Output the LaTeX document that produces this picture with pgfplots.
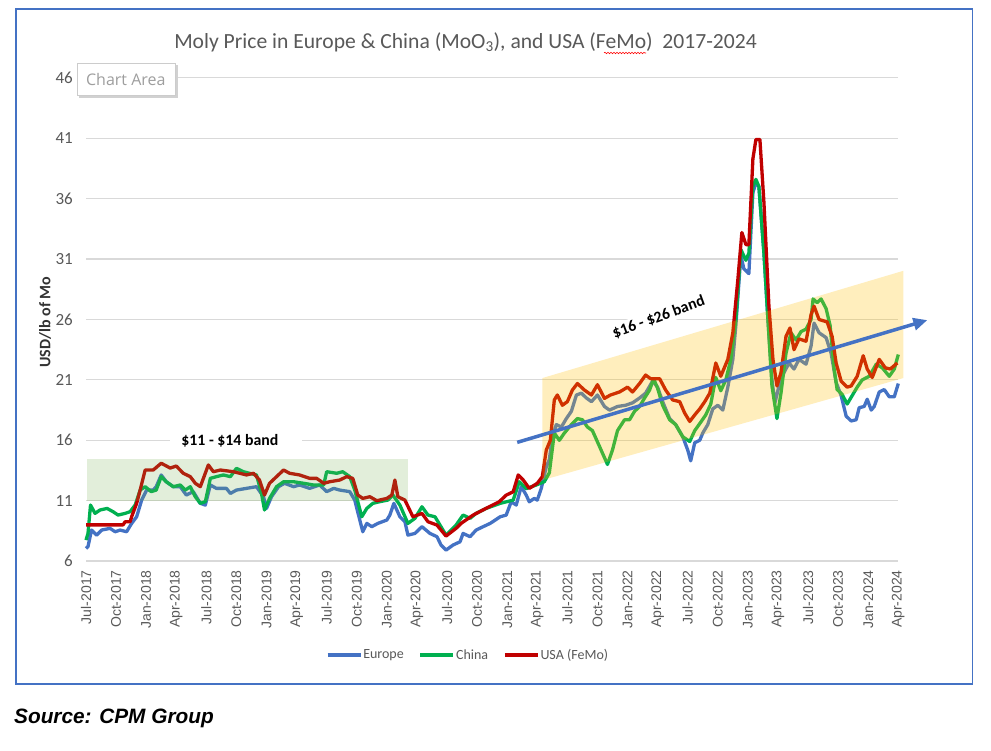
\documentclass[border=0pt]{standalone}
\usepackage{pgfplots}
\pgfplotsset{compat=1.18}
\usepackage{fontspec}
\usepackage{graphicx}
\setmainfont{Carlito}
\newfontfamily\arialf{Liberation Sans}
\newfontfamily\opensans{Open Sans}
\usetikzlibrary{arrows.meta,decorations.pathmorphing}
\definecolor{eu}{HTML}{4472C4}
\definecolor{cn}{HTML}{00B050}
\definecolor{us}{HTML}{C00000}
\definecolor{txt}{HTML}{595959}
\definecolor{gridc}{HTML}{D9D9D9}
\definecolor{gold}{HTML}{FFC000}
\definecolor{bandgreen}{HTML}{70AD47}

\pgfplotstableread{
m v
0 7.05
0.2 7.2
0.55 8.57
1.06 8.15
1.56 8.57
2.4 8.71
2.9 8.43
3.4 8.57
4.05 8.43
4.55 9.12
5.05 9.67
5.55 11.05
6.05 11.88
6.7 11.88
7.0 12.16
7.5 13.13
8.0 12.57
8.7 12.16
9.4 12.16
10.0 11.47
10.7 11.75
11.4 10.78
11.9 10.64
12.4 12.3
13.0 12.02
14.0 12.02
14.4 11.6
15.0 11.88
16.0 12.02
17.0 12.16
17.7 11.33
18.0 10.36
18.5 11.33
19.2 12.16
19.8 12.44
20.7 12.16
21.3 12.3
22.3 12.02
23.3 12.3
24.0 11.75
24.7 12.02
25.3 11.88
26.3 11.75
26.8 11.05
27.3 9.4
27.6 8.43
28.0 9.12
28.5 8.85
29.1 9.12
30.0 9.4
30.3 9.81
30.7 10.78
31.3 9.67
31.8 9.26
32.1 8.15
32.8 8.29
33.5 8.85
34.3 8.29
35.0 8.02
35.4 7.33
35.9 6.91
36.6 7.33
37.3 7.6
37.6 8.29
38.3 8.02
38.9 8.57
39.6 8.85
40.3 9.12
41.3 9.67
41.9 9.81
42.4 10.91
42.9 10.64
43.4 12.16
43.9 11.46
44.2 10.91
44.7 11.19
45.0 11.05
45.4 12.02
45.9 13.8
46.2 14.4
46.5 16.3
46.9 17.3
47.4 17.1
47.9 17.8
48.4 18.4
48.9 19.75
49.4 19.9
49.9 19.5
50.4 19.2
51.0 19.75
51.7 18.8
52.2 18.5
53.0 18.8
53.8 18.9
54.5 19.1
55.2 19.5
55.8 19.9
56.5 20.9
57.0 20.4
57.5 19.2
58.2 17.8
58.8 17.3
59.5 16.3
60.0 15.2
60.3 14.3
60.7 15.8
61.2 16.0
61.5 16.6
62.0 17.3
62.5 18.6
63.0 18.9
63.5 18.5
64.0 20.4
64.5 22.7
64.8 25.5
65.3 31.3
65.6 30.2
66.1 29.8
66.5 36.5
66.8 37.3
67.1 37.0
67.6 31.5
68.0 26.0
68.4 21.0
68.7 19.1
69.1 20.5
69.6 21.6
70.1 22.4
70.6 21.9
71.1 22.7
71.8 22.3
72.3 23.8
72.6 25.7
73.1 24.9
73.8 24.5
74.3 23.2
74.8 20.8
75.3 19.7
75.8 18.0
76.3 17.6
76.8 17.7
77.1 18.7
77.6 18.8
77.9 19.4
78.3 18.5
78.6 18.8
79.1 20.0
79.6 20.2
80.1 19.6
80.6 19.6
81.0 20.7
}\europe

\pgfplotstableread{
m v
0 7.74
0.2 8.29
0.45 10.64
0.9 9.95
1.4 10.23
2.1 10.36
2.7 10.09
3.2 9.81
3.9 9.95
4.4 10.09
4.9 10.64
5.4 11.88
5.9 12.16
6.5 11.75
7.0 11.88
7.5 12.99
8.0 12.57
8.7 12.16
9.4 12.3
9.9 11.88
10.4 12.16
10.9 11.33
11.4 10.78
11.9 10.92
12.4 12.85
13.0 12.99
13.7 13.13
14.4 12.99
15.0 13.68
15.7 13.4
16.3 13.27
17.0 13.13
17.5 11.6
17.8 10.23
18.3 11.19
19.0 12.16
19.7 12.57
20.7 12.57
21.7 12.44
22.7 12.3
23.7 12.3
24.0 13.4
25.0 13.27
25.6 13.4
26.3 12.99
26.8 11.88
27.5 9.67
28.0 10.36
28.6 10.78
29.3 10.92
30.1 11.05
30.6 11.47
31.3 10.64
32.1 9.12
32.8 9.54
33.5 10.5
34.1 9.81
34.8 9.67
35.9 8.15
36.9 8.98
37.6 9.81
38.3 9.54
38.9 9.95
39.9 10.36
41.3 10.78
42.6 11.05
43.2 12.57
43.9 12.0
44.9 12.3
45.7 12.57
46.2 13.3
46.7 16.6
47.2 16.0
47.7 16.6
48.4 17.3
49.0 17.8
49.5 17.7
50.0 17.1
50.5 16.8
51.2 15.5
52.0 14.0
52.5 15.2
53.0 16.8
53.7 17.7
54.2 17.7
54.7 18.4
55.2 18.8
55.7 19.5
56.2 20.16
56.6 21.1
57.0 20.3
57.5 18.9
58.2 17.7
58.8 17.3
59.5 16.3
60.2 15.9
60.7 16.8
61.3 17.5
61.8 18.1
62.3 19.0
62.8 21.2
63.3 20.1
63.8 21.0
64.3 22.7
64.8 26.0
65.3 31.8
65.8 30.9
66.1 31.5
66.5 37.0
66.8 37.6
67.1 37.0
67.6 31.5
68.0 26.0
68.4 20.5
68.9 17.8
69.3 19.9
69.8 23.2
70.3 24.9
70.8 24.3
71.3 25.0
71.8 25.2
72.3 26.0
72.5 27.7
72.9 27.4
73.3 27.7
73.8 26.9
74.2 25.5
74.6 21.9
74.9 20.2
75.4 19.8
75.9 19.0
76.4 19.7
76.9 20.4
77.4 21.0
78.1 21.3
78.8 22.3
79.4 22.0
80.1 21.3
80.6 21.9
81.0 23.1
}\china

\pgfplotstableread{
m v
0 9.0
3.7 9.0
3.9 9.26
4.4 9.26
4.55 9.67
5.05 10.78
5.4 11.88
5.9 13.54
6.7 13.54
7.5 14.1
8.4 13.7
9.0 13.87
9.7 13.27
10.4 12.99
10.9 12.44
11.4 12.16
12.2 13.96
12.7 13.4
13.4 13.54
14.7 13.4
16.0 13.13
16.7 13.27
17.3 12.71
17.8 11.47
18.3 12.44
19.0 12.99
19.7 13.54
20.3 13.27
21.3 13.13
22.3 12.85
23.0 12.85
23.7 12.44
24.3 12.57
25.3 12.71
26.0 12.99
26.6 12.85
27.1 11.47
27.6 11.19
28.3 11.33
29.0 11.0
30.0 11.19
30.5 11.47
30.8 12.71
31.1 11.33
31.8 11.05
32.6 9.67
33.5 9.95
34.1 9.26
35.0 8.98
35.9 8.07
36.9 8.71
37.4 9.12
38.6 9.81
39.9 10.37
41.2 10.91
41.9 11.46
42.6 11.74
43.1 13.13
43.6 12.71
44.2 12.02
45.0 12.44
45.5 12.99
45.9 15.2
46.3 16.0
46.7 19.34
47.0 19.75
47.5 18.9
48.0 19.2
48.5 20.16
49.0 20.7
49.7 20.16
50.4 19.75
51.0 20.6
51.7 19.47
52.3 19.75
53.2 20.0
54.0 20.4
54.5 20.0
55.2 20.7
55.8 21.4
56.3 21.1
57.2 21.1
57.8 20.16
58.5 19.34
59.2 19.2
59.7 18.25
60.2 17.56
60.7 18.1
61.2 18.6
61.7 19.2
62.2 19.9
62.8 22.4
63.3 21.3
64.0 22.7
64.5 24.9
65.0 29.3
65.4 33.2
65.8 32.2
66.1 32.2
66.5 39.3
66.8 40.9
67.2 40.9
67.6 35.7
68.1 27.1
68.5 22.7
68.9 20.5
69.3 21.6
69.8 24.6
70.2 25.3
70.6 23.5
71.1 24.4
71.8 24.2
72.3 26.4
72.6 27.1
73.1 26.0
73.9 25.8
74.4 24.6
74.8 22.4
75.3 20.9
75.9 20.4
76.3 20.5
76.9 21.3
77.5 23.0
77.9 21.9
78.4 21.2
79.1 22.7
79.7 22.0
80.2 21.9
80.9 22.4
}\usa

\begin{document}
\begin{tikzpicture}[x=1pt,y=1pt]
\path[use as bounding box] (0,0) rectangle (991,750);
\fill[white] (0,0) rectangle (991,750);
\draw[eu, line width=1.5pt] (16,66) rectangle (972.5,741);

% title
\node[text=txt, font=\fontsize{21.6}{26}\selectfont] at (465.5,707.3)
  {Moly Price in Europe \& China (MoO\textsubscript{3}), and USA (FeMo)\ \ 2017-2024};
\draw[red, line width=0.6pt, decorate, decoration={snake, amplitude=0.7pt, segment length=3pt}] (604,697) -- (646,697);

% y label
\node[rotate=90, text=black!80, font=\bfseries\fontsize{16}{18}\selectfont] at (45,428) {USD/lb of Mo};

% source
\node[anchor=west, inner sep=0pt, font=\arialf\bfseries\itshape\fontsize{20.8}{24}\selectfont] at (14,32) {Source: CPM Group};

\begin{axis}[
  at={(86pt,188.9pt)}, anchor=south west,
  scale only axis, width=812.3pt, height=483.2pt,
  xmin=0, xmax=81, ymin=6, ymax=46,
  axis line style={draw=none},
  major tick length=0pt,
  ymajorgrids, grid style={gridc, line width=1.2pt},
  ytick={6,11,16,21,26,31,36,41,46},
  yticklabels={6,11,16,21,26,31,36,41,46},
  yticklabel style={anchor=east, inner sep=0pt, text=txt, font=\fontsize{17}{17}\selectfont},
  yticklabel shift=13pt,
  xtick={0,3,...,81},
  xticklabels={Jul-2017,Oct-2017,Jan-2018,Apr-2018,Jul-2018,Oct-2018,Jan-2019,Apr-2019,Jul-2019,Oct-2019,Jan-2020,Apr-2020,Jul-2020,Oct-2020,Jan-2021,Apr-2021,Jul-2021,Oct-2021,Jan-2022,Apr-2022,Jul-2022,Oct-2022,Jan-2023,Apr-2023,Jul-2023,Oct-2023,Jan-2024,Apr-2024},
  xticklabel style={rotate=90, anchor=east, inner sep=0pt, text=txt, font=\arialf\fontsize{14}{14}\selectfont},
  xticklabel shift=9pt,
  clip=false,
  legend columns=3,
  legend style={at={(0.4697,-0.1943)}, anchor=center, draw=none, fill=none,
    font=\fontsize{14}{14}\selectfont, text=txt, inner sep=0pt,
    nodes={inner sep=1pt},
    /tikz/every even column/.append style={column sep=14pt}},
  legend image code/.code={\draw[#1, line width=3.3pt] (0pt,0pt) -- (33pt,0pt);},
]
\addplot[eu, line width=3.3pt, line join=round] table[x=m,y=v] {\europe};
\addplot[cn, line width=3.3pt, line join=round] table[x=m,y=v] {\china};
\addplot[us, line width=3.3pt, line join=round] table[x=m,y=v] {\usa};
\legend{Europe,China,USA (FeMo)}

% bands (semi-transparent, on top of lines)
\addplot[forget plot, draw=none, fill=bandgreen, fill opacity=0.2] coordinates {(0.07,11) (0.07,14.45) (32.1,14.45) (32.1,11)} -- cycle;
\addplot[forget plot, draw=none, fill=gold, fill opacity=0.26] coordinates {(45.5,12.7) (45.5,21.15) (81.5,30.03) (81.5,21.15)} -- cycle;

% arrow
\draw[eu, line width=3.5pt, -{Triangle[length=14pt,width=12pt]}] (axis cs:43.0,15.83) -- (axis cs:83.9,25.95);

% band labels
\node[fill=white, anchor=west, inner xsep=0pt, inner ysep=2pt, font=\bfseries\fontsize{15.8}{16}\selectfont] at (axis cs:8.4,16) {\hspace*{11pt}\$11 - \$14 band\hspace*{24pt}};
\node[fill=white, rotate=20, inner xsep=7pt, inner ysep=2pt, font=\bfseries\fontsize{15.8}{16}\selectfont] at (axis cs:57.1,26.2) {\$16 - \$26 band};
\end{axis}

% chart area tooltip
\fill[black!18] (79,651.5) rectangle (177.5,684.5);
\draw[black!20, fill=white] (76.7,654.3) rectangle (175,686.7);
\node[text=black!38, font=\opensans\fontsize{16}{16}\selectfont] at (125.8,670.5) {Chart Area};
\end{tikzpicture}
\end{document}
